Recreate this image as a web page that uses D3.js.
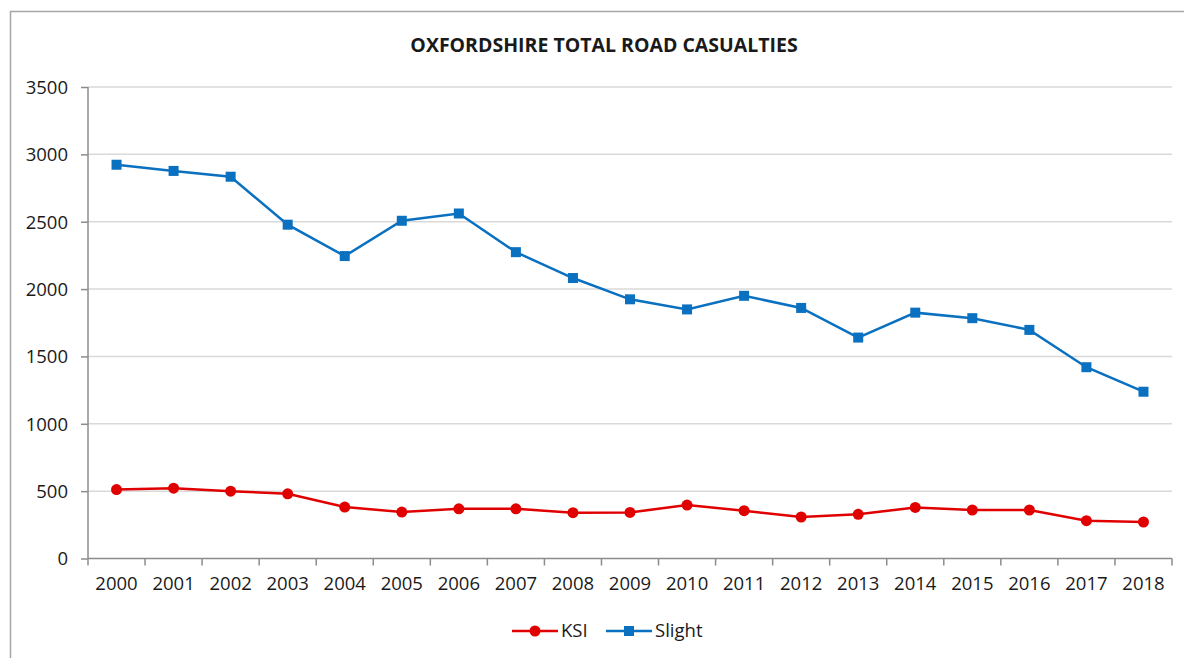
<!DOCTYPE html>
<html>
<head>
<meta charset="utf-8">
<script src="https://cdn.jsdelivr.net/npm/d3@7"></script>
<style>
  body { margin: 0; background: #fff; }
  text { font-family: "Open Sans", "Liberation Sans", sans-serif; fill: #1a1a1a; }
</style>
</head>
<body>
<div id="chart"></div>
<script>
// Data
let years = ["2000","2001","2002","2003","2004","2005","2006","2007","2008","2009",
             "2010","2011","2012","2013","2014","2015","2016","2017","2018"];
let ksi = [512, 522, 500, 480, 382, 345, 369, 369, 340, 342, 397, 355, 308, 328, 379, 360, 360, 281, 271];
let slight = [2923, 2877, 2834, 2478, 2245, 2507, 2561, 2274, 2082, 1924, 1849, 1950, 1860, 1640, 1825, 1784, 1697, 1420, 1238];
let yTicks = [0, 500, 1000, 1500, 2000, 2500, 3000, 3500];

let W = 1184, H = 658;
let margin = {top: 87, right: 12, bottom: 100, left: 88};
let width = 1172 - margin.left,
    height = 558.5 - margin.top;

let svg = d3.select("#chart").append("svg")
    .attr("width", W)
    .attr("height", H);

// outer frame
svg.append("rect")
    .attr("x", 10.5).attr("y", 11.5)
    .attr("width", 1200).attr("height", 700)
    .attr("fill", "none")
    .attr("stroke", "#a6a6a6")
    .attr("stroke-width", 1.5);

let g = svg.append("g")
    .attr("transform", "translate(" + margin.left + "," + margin.top + ")");

let x = d3.scaleBand().domain(years).range([0, width]);
let y = d3.scaleLinear().domain([0, 3500]).range([height, 0]);
let cx = function(d, i) { return x(years[i]) + x.bandwidth() / 2; };

// gridlines
g.selectAll(".grid")
    .data(yTicks.filter(function(t) { return t > 0; }))
    .enter().append("line")
    .attr("x1", 0).attr("x2", width)
    .attr("y1", function(d) { return y(d); })
    .attr("y2", function(d) { return y(d); })
    .attr("stroke", "#d9d9d9")
    .attr("stroke-width", 1.5);

// Y axis
let yAxis = g.append("g")
    .call(d3.axisLeft(y).tickValues(yTicks).tickFormat(d3.format("d")).tickSize(7).tickPadding(13));
yAxis.selectAll("line").attr("stroke", "#8c8c8c").attr("stroke-width", 1.5);
yAxis.select(".domain").attr("stroke", "#8c8c8c").attr("stroke-width", 1.5).attr("d", "M0," + height + "V0");
yAxis.selectAll("text").style("font-size", "18.5px").attr("dy", "0.35em");

// X axis: ticks between categories
let xAxis = g.append("g")
    .attr("transform", "translate(0," + height + ")")
    .call(d3.axisBottom(x).tickSize(0).tickPadding(18));
xAxis.select(".domain").attr("stroke", "#8c8c8c").attr("stroke-width", 1.5).attr("d", "M0,0H" + width);
xAxis.selectAll("text").style("font-size", "18.5px");
xAxis.selectAll(".sep")
    .data(years.concat(["end"]))
    .enter().append("line")
    .attr("x1", function(d, i) { return i * x.bandwidth(); })
    .attr("x2", function(d, i) { return i * x.bandwidth(); })
    .attr("y1", 0).attr("y2", 7)
    .attr("stroke", "#8c8c8c")
    .attr("stroke-width", 1.5);

let line = d3.line()
    .x(function(d, i) { return cx(d, i); })
    .y(function(d) { return y(d); });

// KSI series
g.append("path")
    .datum(ksi)
    .attr("d", line)
    .attr("fill", "none")
    .attr("stroke", "#e00000")
    .attr("stroke-width", 2.5);
g.selectAll(".ksi")
    .data(ksi)
    .enter().append("circle")
    .attr("cx", cx)
    .attr("cy", function(d) { return y(d); })
    .attr("r", 5.5)
    .attr("fill", "#e00000");

// Slight series
g.append("path")
    .datum(slight)
    .attr("d", line)
    .attr("fill", "none")
    .attr("stroke", "#0a70c0")
    .attr("stroke-width", 2.5);
g.selectAll(".slight")
    .data(slight)
    .enter().append("rect")
    .attr("x", function(d, i) { return cx(d, i) - 5; })
    .attr("y", function(d) { return y(d) - 5; })
    .attr("width", 10).attr("height", 10)
    .attr("fill", "#0a70c0");

// Title
svg.append("text")
    .attr("x", 604).attr("y", 52)
    .attr("text-anchor", "middle")
    .style("font-size", "19.5px")
    .style("font-weight", "bold")
    .text("OXFORDSHIRE TOTAL ROAD CASUALTIES");

// Legend
let legend = [
    {name: "KSI", color: "#e00000", shape: "circle", x: 512},
    {name: "Slight", color: "#0a70c0", shape: "square", x: 606}
];
let lg = svg.selectAll(".legend")
    .data(legend)
    .enter().append("g")
    .attr("transform", function(d) { return "translate(" + d.x + ",631)"; });
lg.append("line")
    .attr("x1", 0).attr("x2", 46)
    .attr("stroke", function(d) { return d.color; })
    .attr("stroke-width", 2.5);
lg.filter(function(d) { return d.shape === "circle"; })
    .append("circle").attr("cx", 23).attr("r", 5.5)
    .attr("fill", function(d) { return d.color; });
lg.filter(function(d) { return d.shape === "square"; })
    .append("rect").attr("x", 18).attr("y", -5).attr("width", 10).attr("height", 10)
    .attr("fill", function(d) { return d.color; });
lg.append("text")
    .attr("x", 49).attr("dy", "0.35em")
    .style("font-size", "18.5px")
    .text(function(d) { return d.name; });
</script>
</body>
</html>
